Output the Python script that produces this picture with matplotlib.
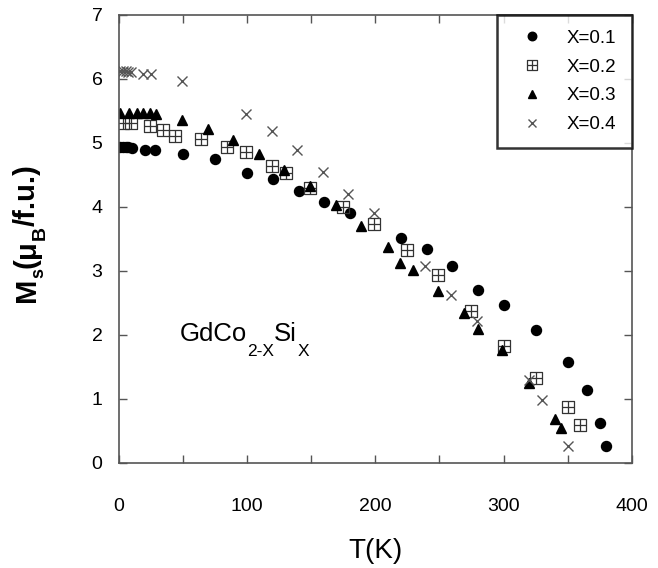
import matplotlib
matplotlib.use("Agg")
import matplotlib.pyplot as plt
from matplotlib.path import Path
from matplotlib.ticker import MultipleLocator
from matplotlib.transforms import IdentityTransform

plt.rcParams['font.family'] = ['Liberation Sans', 'DejaVu Sans']

# Saturation magnetisation vs temperature for GdCo(2-x)Si(x)
t_01 = [1, 3, 5, 7, 10, 20, 28, 50, 75, 100, 120, 140, 160, 180, 220, 240, 260, 280, 300, 325, 350, 365, 375, 380]
m_01 = [4.93, 4.93, 4.93, 4.93, 4.92, 4.89, 4.88, 4.82, 4.75, 4.53, 4.44, 4.25, 4.07, 3.90, 3.51, 3.34, 3.08, 2.70, 2.47, 2.08, 1.57, 1.14, 0.63, 0.27]

t_02 = [3, 9, 24, 34, 44, 64, 84, 99, 119, 130, 149, 175, 199, 225, 249, 275, 300, 325, 350, 360]
m_02 = [5.31, 5.31, 5.26, 5.20, 5.11, 5.06, 4.94, 4.86, 4.63, 4.53, 4.29, 4.00, 3.73, 3.33, 2.93, 2.38, 1.83, 1.32, 0.88, 0.59]

t_03 = [1, 8, 14, 19, 24, 29, 49, 69, 89, 109, 129, 149, 169, 189, 210, 219, 229, 249, 269, 280, 299, 320, 340, 345]
m_03 = [5.46, 5.46, 5.46, 5.46, 5.46, 5.45, 5.35, 5.21, 5.04, 4.83, 4.57, 4.32, 4.03, 3.70, 3.37, 3.13, 3.02, 2.68, 2.34, 2.09, 1.77, 1.25, 0.68, 0.54]

t_04 = [1, 3, 5, 7, 9, 19, 25, 49, 99, 119, 139, 159, 179, 199, 239, 259, 279, 320, 330, 350]
m_04 = [6.12, 6.12, 6.12, 6.11, 6.11, 6.08, 6.07, 5.96, 5.45, 5.18, 4.88, 4.55, 4.20, 3.90, 3.07, 2.63, 2.21, 1.30, 0.98, 0.27]

labels = ['X=0.1', 'X=0.2', 'X=0.3', 'X=0.4']

# square with an inner cross (⊞)
grid_square = Path(
    [(-1, -1), (1, -1), (1, 1), (-1, 1), (-1, -1),
     (0, -1), (0, 1), (-1, 0), (1, 0)],
    [Path.MOVETO, Path.LINETO, Path.LINETO, Path.LINETO, Path.CLOSEPOLY,
     Path.MOVETO, Path.LINETO, Path.MOVETO, Path.LINETO])

fig = plt.figure(figsize=(6.58, 5.68), dpi=100)
ax = fig.add_axes([0.181, 0.185, 0.779, 0.789])

ax.plot(t_01, m_01, linestyle='none', marker='o', ms=7.2, color='black', label=labels[0])
ax.plot(t_02, m_02, linestyle='none', marker=grid_square, ms=8, mfc='none',
        mec='#333333', mew=0.9, label=labels[1])
ax.plot(t_03, m_03, linestyle='none', marker='^', ms=7.5, color='black', label=labels[2])
ax.plot(t_04, m_04, linestyle='none', marker='x', ms=7.5, mew=1.0, color='#555555', label=labels[3])

ax.set_xlim(0, 400)
ax.set_ylim(0, 7)
ax.xaxis.set_major_locator(MultipleLocator(100))
ax.xaxis.set_minor_locator(MultipleLocator(50))
ax.yaxis.set_major_locator(MultipleLocator(1))

ax.tick_params(which='both', direction='in', top=True, right=True,
               color='#555555', width=1.0, length=6)
ax.tick_params(axis='x', which='major', labelsize=14, pad=25)
ax.tick_params(axis='y', which='major', labelsize=14, pad=12)

for s in ax.spines.values():
    s.set_color('#555555')
    s.set_linewidth(1.2)

ax.set_xlabel('T(K)', fontsize=20, labelpad=17)

leg = ax.legend(loc='upper right', bbox_to_anchor=(1.0, 1.0), borderaxespad=0,
                fontsize=13.5, frameon=True, fancybox=False, handletextpad=0.75,
                labelspacing=0.62, borderpad=0.8, handlelength=2.2, markerscale=0.85)
leg.get_frame().set_edgecolor('black')
leg.get_frame().set_linewidth(1.8)

fig.canvas.draw()
renderer = fig.canvas.get_renderer()


def place_pieces(x0, y0, pieces, rotated=False, weight='normal'):
    """Lay out text pieces one after another in pixel space.

    Each piece is (text, fontsize, baseline drop in px).
    """
    pos = 0.0
    for txt, size, drop in pieces:
        if rotated:
            x, y = x0 + drop, y0 + pos
            t = fig.text(x, y, txt, fontsize=size, fontweight=weight,
                         rotation=90, rotation_mode='anchor',
                         ha='left', va='baseline', transform=IdentityTransform())
            pos += t.get_window_extent(renderer).height
        else:
            x, y = x0 + pos, y0 - drop
            t = fig.text(x, y, txt, fontsize=size, fontweight=weight,
                         ha='left', va='baseline', transform=IdentityTransform())
            pos += t.get_window_extent(renderer).width


H = fig.bbox.height

# compound formula inside the plot
place_pieces(180, H - 341, [('GdCo', 18.5, 0), ('2-X', 12.5, 15),
                            ('Si', 18.5, 0), ('X', 12.5, 15)])

# y-axis label, written bottom-to-top
place_pieces(35, H - 302, [('M', 21, 0), ('s', 13, 8), ('(', 21, 0), ('μ', 21, 0),
                           ('B', 14, 10), ('/f.u.)', 21, 0)],
             rotated=True, weight='bold')

fig.savefig('out.png', dpi=100)
